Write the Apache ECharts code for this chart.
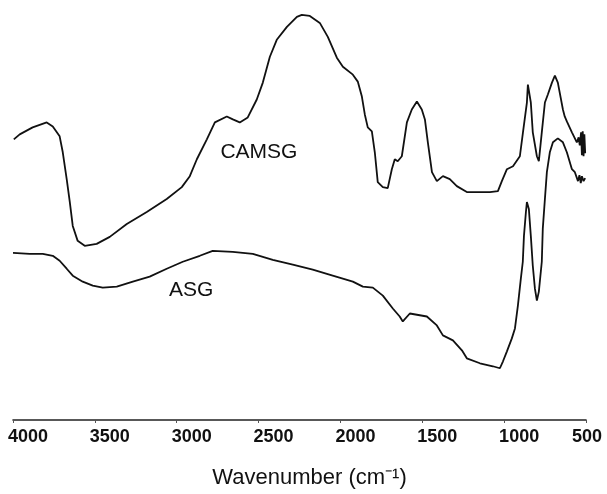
<!DOCTYPE html>
<html>
<head>
<meta charset="utf-8">
<title>FTIR spectra: CAMSG and ASG</title>
<script src="https://cdn.jsdelivr.net/npm/echarts@6/dist/echarts.min.js"></script>
<style>
  html, body { margin: 0; padding: 0; background: #ffffff; }
  #chart { width: 607px; height: 494px; }
</style>
</head>
<body>
<div id="chart"></div>
<script>
// Wavenumber axis ticks (cm^-1), drawn high to low
const xTicks = [4000, 3500, 3000, 2500, 2000, 1500, 1000, 500];

// CAMSG spectrum: wavenumber (cm^-1) and relative signal (arbitrary units)
const camsgWavenumber = [
  3995, 3959, 3880, 3794, 3757, 3715, 3696, 3672, 3653, 3635, 3605, 3562,
  3489, 3409, 3305, 3183, 3061, 2969, 2920, 2877, 2816, 2767, 2694, 2657,
  2615, 2566, 2511, 2474, 2431, 2389, 2327, 2266, 2236, 2187, 2126, 2077,
  2022, 1985, 1924, 1894, 1869, 1851, 1833, 1808, 1790, 1772, 1741, 1711,
  1686, 1668, 1650, 1625, 1594, 1564, 1533, 1503, 1484, 1466, 1441, 1411,
  1374, 1332, 1289, 1228, 1148, 1087, 1038, 1014, 983, 946, 904, 885,
  861, 855, 837, 825, 800, 788, 770, 751, 733, 708, 690, 672,
  641, 630, 617, 586, 556, 545, 538, 530, 525, 520, 515, 510, 505
];
const camsgSignal = [
  282, 287, 294, 299, 295, 285, 269, 242, 219, 195, 180, 175,
  177, 184, 197, 209, 222, 234, 245, 262, 282, 299, 305, 302,
  299, 304, 322, 339, 365, 382, 395, 405, 407, 406, 399, 385,
  364, 355, 347, 340, 325, 307, 294, 290, 269, 239, 234, 233,
  252, 262, 260, 265, 299, 312, 320, 312, 302, 279, 249, 240,
  245, 242, 235, 229, 229, 229, 230, 240, 252, 255, 265, 289,
  319, 337, 319, 289, 265, 260, 289, 319, 327, 339, 346, 339,
  312, 305, 300, 289, 279, 284, 276, 289, 266, 290, 265, 287, 268
];

// ASG spectrum: wavenumber (cm^-1) and relative signal (arbitrary units)
const asgWavenumber = [
  4000, 3898, 3818, 3757, 3715, 3672, 3635, 3574, 3513, 3452, 3366, 3268,
  3165, 3061, 2963, 2859, 2780, 2658, 2535, 2413, 2291, 2169, 2047, 1924,
  1863, 1802, 1741, 1680, 1638, 1619, 1576, 1472, 1411, 1374, 1313, 1258,
  1228, 1148, 1069, 1026, 1007, 983, 953, 934, 916, 898, 886, 879,
  867, 861, 849, 837, 825, 812, 800, 788, 770, 764, 751, 739,
  721, 702, 672, 641, 617, 586, 568, 549, 540, 532, 525, 515, 505
];
const asgSignal = [
  168, 167, 167, 165, 160, 152, 145, 139, 135, 133, 134, 139,
  144, 152, 159, 165, 170, 169, 167, 161, 156, 151, 145, 139,
  134, 133, 125, 112, 104, 99, 107, 104, 95, 85, 80, 70,
  62, 57, 54, 52, 59, 69, 82, 92, 115, 142, 159, 185,
  209, 219, 212, 185, 155, 132, 120, 129, 159, 192, 222, 249,
  269, 279, 283, 279, 269, 252, 249, 240, 246, 238, 245, 240, 243
];

// Curve names and where their labels sit (wavenumber, signal)
const curveNames = ['CAMSG', 'ASG'];
const camsgLabelAt = [2498, 269];
const asgLabelAt = [2911, 130];

const zip = (xs, ys) => xs.map((x, i) => [x, ys[i]]);

const FONT = 'Liberation Sans, Arial, Helvetica, sans-serif';
const INK = '#111111';

// An invisible marker at the given point carrying the curve's name as text
function curveLabel(name, at) {
  return {
    symbol: 'circle',
    symbolSize: 1,
    silent: true,
    itemStyle: { color: 'rgba(0,0,0,0)' },
    data: [{
      name: name,
      coord: at,
      label: {
        show: true,
        position: 'inside',
        formatter: name,
        fontFamily: FONT,
        fontSize: 21,
        color: INK
      }
    }]
  };
}

const chart = echarts.init(document.getElementById('chart'), null, { renderer: 'canvas' });

chart.setOption({
  animation: false,
  backgroundColor: '#ffffff',
  grid: { left: 13, right: 21, top: 0, bottom: 72, containLabel: false },
  xAxis: {
    type: 'value',
    inverse: true,
    min: 500,
    max: 4000,
    interval: 500,
    name: 'Wavenumber (cm\u207B\u00B9)',
    nameLocation: 'middle',
    nameGap: 47,
    nameTextStyle: {
      fontFamily: FONT,
      fontSize: 22,
      color: INK,
      padding: [0, 0, 0, 20]
    },
    axisLine: { show: true, onZero: false, lineStyle: { color: '#222222', width: 1.6 } },
    axisTick: { show: true, length: 3, inside: false, lineStyle: { color: '#555555', width: 1 } },
    splitLine: { show: false },
    axisLabel: {
      show: true,
      margin: 8,
      showMinLabel: true,
      showMaxLabel: true,
      formatter: function (v) {
        if (xTicks.indexOf(v) < 0) return '';
        return String(v).length > 3 ? '{w|' + v + '}' : '{s|' + v + '}';
      },
      rich: {
        w: { fontFamily: FONT, fontSize: 18, fontWeight: 'bold', color: INK, padding: [0, 0, 0, 30] },
        s: { fontFamily: FONT, fontSize: 18, fontWeight: 'bold', color: INK, padding: [0, 0, 0, 2] }
      }
    }
  },
  yAxis: {
    type: 'value',
    min: 0,
    max: 422,
    show: false,
    splitLine: { show: false }
  },
  series: [
    {
      name: curveNames[0],
      type: 'line',
      data: zip(camsgWavenumber, camsgSignal),
      showSymbol: false,
      symbol: 'none',
      smooth: false,
      lineStyle: { color: INK, width: 1.8 },
      markPoint: curveLabel(curveNames[0], camsgLabelAt)
    },
    {
      name: curveNames[1],
      type: 'line',
      data: zip(asgWavenumber, asgSignal),
      showSymbol: false,
      symbol: 'none',
      smooth: false,
      lineStyle: { color: INK, width: 1.8 },
      markPoint: curveLabel(curveNames[1], asgLabelAt)
    }
  ]
});
</script>
</body>
</html>
